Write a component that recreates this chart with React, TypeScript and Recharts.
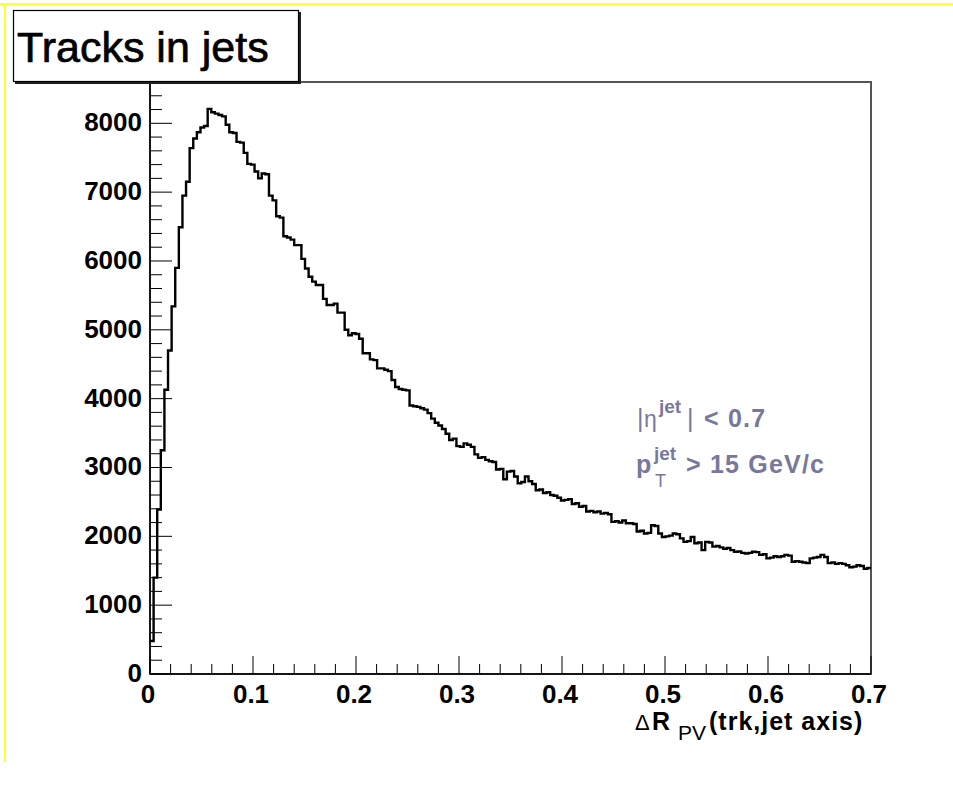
import React from "react";
import { LineChart, Line, XAxis, YAxis, ReferenceArea } from "recharts";

// Histogram: 200 bins of width 0.0035 over [0, 0.7]
const BIN_WIDTH = 0.0035;
const counts: number[] = [
  480, 1400, 2390, 3250, 4130, 4700, 5340, 5900, 6490, 6950,
  7150, 7640, 7780, 7870, 7940, 7960, 8210, 8160, 8140, 8120,
  8100, 7980, 7870, 7860, 7730, 7720, 7570, 7410, 7400, 7300,
  7200, 7270, 7260, 6950, 6880, 6650, 6630, 6360, 6340, 6310,
  6230, 6230, 6030, 5890, 5770, 5700, 5650, 5650, 5450, 5360,
  5360, 5380, 5250, 5250, 5000, 4920, 4950, 4940, 4870, 4660,
  4660, 4570, 4560, 4440, 4440, 4420, 4400, 4270, 4170, 4140,
  4130, 4120, 3900, 3890, 3880, 3860, 3840, 3790, 3710, 3650,
  3610, 3560, 3490, 3400, 3420, 3310, 3300, 3350, 3330, 3300,
  3190, 3140, 3150, 3110, 3090, 3080, 2970, 2980, 2830, 2940,
  2950, 2870, 2770, 2790, 2870, 2800, 2760, 2670, 2680, 2630,
  2640, 2600, 2590, 2560, 2520, 2530, 2540, 2470, 2480, 2430,
  2440, 2360, 2370, 2350, 2360, 2330, 2340, 2320, 2210, 2220,
  2200, 2230, 2190, 2190, 2180, 2070, 2080, 2040, 2050, 2160,
  2150, 2040, 1990, 2000, 2010, 2040, 2030, 1970, 1920, 1930,
  1990, 1900, 1910, 1800, 1920, 1910, 1850, 1860, 1840, 1820,
  1830, 1800, 1775, 1780, 1760, 1750, 1760, 1775, 1770, 1730,
  1740, 1680, 1690, 1710, 1700, 1710, 1730, 1720, 1630, 1640,
  1630, 1620, 1610, 1680, 1690, 1700, 1730, 1700, 1610, 1620,
  1600, 1610, 1600, 1580, 1550, 1560, 1580, 1570, 1530, 1540,
];

const X_MIN = 0;
const X_MAX = 0.7;
const Y_MIN = 0;
const Y_MAX = 8600;

const xMajorTicks = [0, 0.1, 0.2, 0.3, 0.4, 0.5, 0.6, 0.7];
const xTickLabels = ["0", "0.1", "0.2", "0.3", "0.4", "0.5", "0.6", "0.7"];
const yMajorTicks = [0, 1000, 2000, 3000, 4000, 5000, 6000, 7000, 8000];
const yTickLabels = ["0", "1000", "2000", "3000", "4000", "5000", "6000", "7000", "8000"];

const X_MINOR_STEP = 0.02;
const Y_MINOR_STEP = 200;

const xAllTicks: number[] = [];
for (let i = 0; i * X_MINOR_STEP <= X_MAX + 1e-9; i++) xAllTicks.push(+(i * X_MINOR_STEP).toFixed(2));
const yAllTicks: number[] = [];
for (let i = 0; i * Y_MINOR_STEP <= Y_MAX; i++) yAllTicks.push(i * Y_MINOR_STEP);

const histData = counts.map((v, i) => ({ x: +(i * BIN_WIDTH).toFixed(4), v }));
histData.push({ x: X_MAX, v: counts[counts.length - 1] });

const FONT = "'Liberation Sans', Arial, Helvetica, sans-serif";
const ANNOT = "#78789c";

const XTick = (props: any) => {
  const { x, y, payload } = props;
  const v = payload.value as number;
  const idx = xMajorTicks.findIndex((m) => Math.abs(m - v) < 1e-6);
  const major = idx >= 0;
  return (
    <g>
      <line x1={x} y1={y} x2={x} y2={y - (major ? 18 : 10)} stroke="#000" strokeWidth={1} />
      {major && (
        <text x={x - 2} y={y + 29} textAnchor="middle" fontFamily={FONT} fontWeight="bold" fontSize={26} fill="#000">
          {xTickLabels[idx]}
        </text>
      )}
    </g>
  );
};

const YTick = (props: any) => {
  const { x, y, payload } = props;
  const v = payload.value as number;
  const idx = yMajorTicks.indexOf(v);
  const major = idx >= 0;
  return (
    <g>
      <line x1={x} y1={y} x2={x + (major ? 22 : 12)} y2={y} stroke="#000" strokeWidth={1} />
      {major && (
        <text x={x - 8} y={y + 8} textAnchor="end" fontFamily={FONT} fontWeight="bold" fontSize={26} fill="#000">
          {yTickLabels[idx]}
        </text>
      )}
    </g>
  );
};

export default function App() {
  return (
    <div style={{ position: "absolute", left: 0, top: 0, width: 953, height: 787, background: "#fff" }}>
      <LineChart
        width={953}
        height={787}
        data={histData}
        margin={{ top: 82, right: 82, bottom: 83, left: 90 }}
      >
        <ReferenceArea
          x1={X_MIN}
          x2={X_MAX}
          y1={Y_MIN}
          y2={Y_MAX}
          fill="none"
          stroke="#555"
          strokeWidth={2}
          ifOverflow="visible"
        />
        <XAxis
          dataKey="x"
          type="number"
          domain={[X_MIN, X_MAX]}
          ticks={xAllTicks}
          interval={0}
          tick={XTick}
          tickLine={false}
          tickSize={0}
          tickMargin={0}
          height={30}
          axisLine={{ stroke: "#000", strokeWidth: 1.5 }}
          allowDataOverflow
        />
        <YAxis
          type="number"
          domain={[Y_MIN, Y_MAX]}
          ticks={yAllTicks}
          interval={0}
          tick={YTick}
          tickLine={false}
          tickSize={0}
          tickMargin={0}
          width={60}
          axisLine={{ stroke: "#000", strokeWidth: 1.5 }}
          allowDataOverflow
        />
        <Line
          dataKey="v"
          type="stepAfter"
          stroke="#000"
          strokeWidth={2.4}
          dot={false}
          activeDot={false}
          isAnimationActive={false}
        />
      </LineChart>
      <svg
        width={953}
        height={787}
        style={{ position: "absolute", left: 0, top: 0, pointerEvents: "none" }}
      >
        {/* yellow canvas border */}
        <line x1={0} y1={4} x2={953} y2={4} stroke="#ffff30" strokeWidth={2} />
        <line x1={5} y1={4} x2={5} y2={762} stroke="#ffff30" strokeWidth={2} />
        {/* title box with shadow */}
        <line x1={300} y1={12} x2={300} y2={83} stroke="#222" strokeWidth={2} />
        <line x1={15} y1={83} x2={301} y2={83} stroke="#222" strokeWidth={2} />
        <rect x={13.5} y={10.5} width={285} height={71} fill="#fff" stroke="#000" strokeWidth={1.2} />
        <text x={17} y={62} fontFamily={FONT} fontSize={43} fill="#000" stroke="#000" strokeWidth={0.7}>
          Tracks in jets
        </text>
        {/* annotations */}
        <text x={638} y={427} fontFamily={FONT} fontWeight="bold" fontSize={25} fill={ANNOT}>
          <tspan x={637} fontWeight="normal">|</tspan>
          <tspan x={644} fontWeight="normal" fontSize={23}>η</tspan>
          <tspan x={659} dy={-14} fontSize={19}>jet</tspan>
          <tspan x={687} dy={14} fontWeight="normal">|</tspan>
          <tspan x={704} letterSpacing={1.2}>&lt; 0.7</tspan>
        </text>
        <text x={637} y={473} fontFamily={FONT} fontWeight="bold" fontSize={25} fill={ANNOT}>
          <tspan x={636}>p</tspan>
          <tspan x={654} dy={-13} fontSize={19}>jet</tspan>
          <tspan x={655} dy={27} fontSize={18} fontWeight="normal">T</tspan>
          <tspan x={686} dy={-14} letterSpacing={1.2}>&gt; 15 GeV/c</tspan>
        </text>
        {/* x-axis title */}
        <text x={635} y={730} fontFamily={FONT} fontWeight="bold" fontSize={25} fill="#000">
          <tspan x={635} fontWeight="normal" fontSize={22}>Δ</tspan>
          <tspan x={652}>R</tspan>
          <tspan x={678} dy={10} fontSize={21} fontWeight="normal">PV</tspan>
          <tspan x={709} dy={-10} letterSpacing={1}>(trk,jet axis)</tspan>
        </text>
      </svg>
    </div>
  );
}
